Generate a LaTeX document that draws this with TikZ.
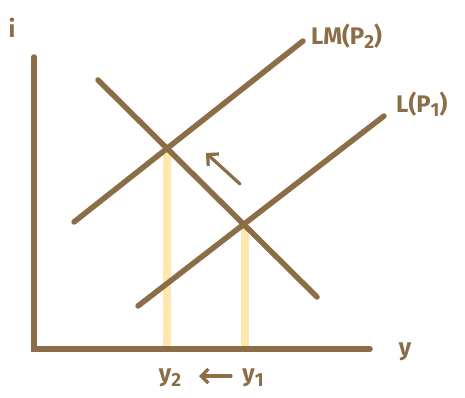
\documentclass[tikz,border=0pt]{standalone}
\usepackage{fontspec}
\setmainfont{Fira Sans}
\usetikzlibrary{arrows.meta}
\definecolor{brn}{HTML}{8B6E47}
\definecolor{hl}{HTML}{FFE3A0}
\newcommand{\sbs}[1]{\raisebox{-0.35ex}{\fontsize{19}{22}\selectfont #1}}
\begin{document}
\begin{tikzpicture}[x=1pt,y=-1pt,
  curve/.style={draw=brn,line width=5.5pt,line cap=round},
  guide/.style={draw=hl,line width=8pt,opacity=0.85},
  lbl/.style={text=brn,font=\fontsize{24}{27}\selectfont\bfseries,inner sep=0pt},
  hint/.style={draw=brn,line width=3.2pt,line cap=round,line join=round,-{Straight Barb[length=8pt,width=16pt,line width=3.2pt]}}]
\useasboundingbox (0,0) rectangle (465,398);
% coordinates
\coordinate (ytop) at (34,57);
\coordinate (org) at (34,349);
\coordinate (xend) at (370,349);
\coordinate (lm2a) at (74,222);
\coordinate (lm2b) at (303,41);
\coordinate (lm1a) at (138,306);
\coordinate (lm1b) at (384,116);
\coordinate (isa) at (98,80);
\coordinate (isb) at (317,297);
\coordinate (e2) at (167,148);
\coordinate (e1) at (245,226);
\coordinate (b2) at (167,349);
\coordinate (b1) at (245,349);
\coordinate (ha) at (240,184);
\coordinate (hb) at (206,153);
% guides
\draw[guide] (e2) -- (b2);
\draw[guide] (e1) -- (b1);
% axes
\draw[curve] (ytop) -- (org) -- (xend);
% curves
\draw[curve] (lm2a) -- (lm2b);
\draw[curve] (lm1a) -- (lm1b);
\draw[curve] (isa) -- (isb);
% arrow
\draw[hint] (ha) -- (hb);
% labels
\node[lbl] (li) at (12,28) {i};
\node[lbl,anchor=west] (llm2) at (311,36) {LM(P\sbs{2})};
\node[lbl,anchor=west] (llm1) at (396,104) {L(P\sbs{1})};
\node[lbl] (ly) at (405,352) {y};
\node[lbl] (ly2) at (170,378) {y\sbs{2}};
\node[lbl] (ly1) at (253,378) {y\sbs{1}};
\coordinate (sa) at (231,376);
\coordinate (sb) at (199,376);
\draw[hint,-{Straight Barb[length=7pt,width=14pt,line width=3.2pt]}] (sa) -- (sb);
\end{tikzpicture}
\end{document}
